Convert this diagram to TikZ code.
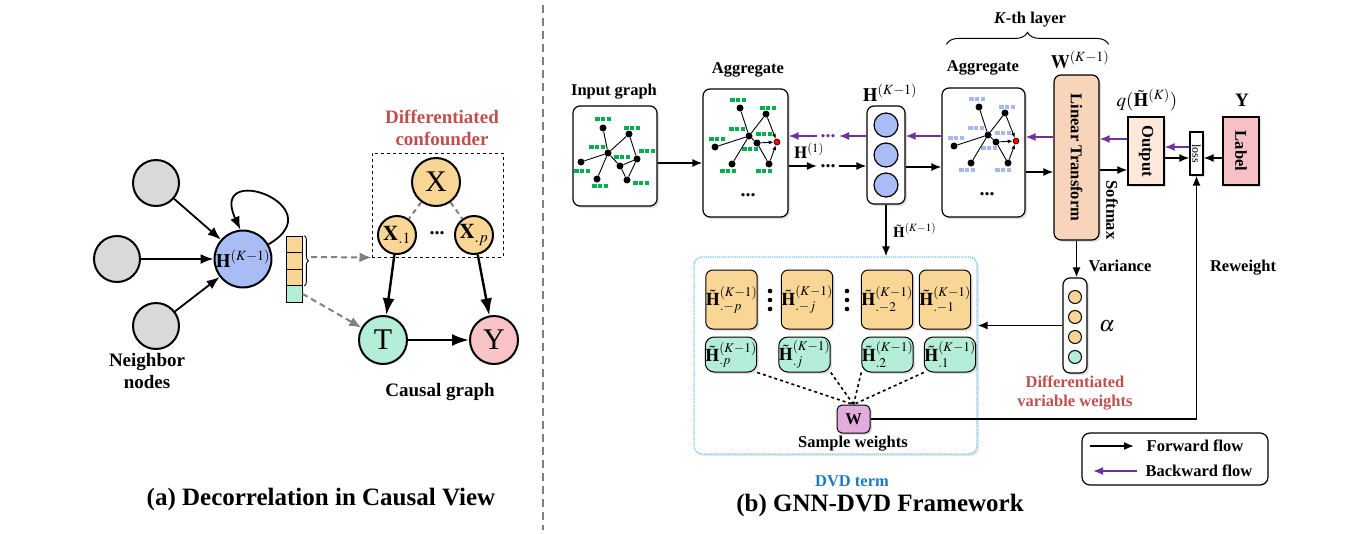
\documentclass[tikz,border=0pt]{standalone}
\usepackage{mathptmx}
\usepackage{fontspec}
\setmainfont{Liberation Serif}
\usetikzlibrary{arrows.meta, decorations.pathreplacing, shadows}

\definecolor{nbgray}{RGB}{217,217,217}
\definecolor{hblue}{RGB}{169,188,245}
\definecolor{xyellow}{RGB}{249,214,150}
\definecolor{tgreen}{RGB}{180,238,216}
\definecolor{ypink}{RGB}{248,196,200}
\definecolor{ltpeach}{RGB}{248,212,186}
\definecolor{outpeach}{RGB}{252,233,220}
\definecolor{labpink}{RGB}{246,192,196}
\definecolor{wpink}{RGB}{226,172,220}
\definecolor{backpurple}{RGB}{112,48,160}
\definecolor{confred}{RGB}{192,80,77}
\definecolor{dvdblue}{RGB}{30,120,200}
\definecolor{dvdline}{RGB}{100,200,240}
\definecolor{featgreen}{RGB}{0,176,80}
\definecolor{featblue}{RGB}{165,185,240}

% three squares = one node feature
\newcommand{\featbar}[3]{%
  \fill[#3] (#1-7.8, #2-2.1) rectangle ++(4.3, 4.3);
  \fill[#3] (#1-2.1, #2-2.1) rectangle ++(4.3, 4.3);
  \fill[#3] (#1+3.6, #2-2.1) rectangle ++(4.3, 4.3);
}

% aggregated graph, red node is the target
\newcommand{\aggnet}[1]{%
  \featbar{738}{100}{#1}
  \featbar{768}{108}{#1}
  \featbar{737}{129}{#1}
  \featbar{717}{139}{#1}
  \featbar{764}{134}{#1}
  \featbar{750}{149}{#1}
  \featbar{728}{171}{#1}
  \featbar{764}{171}{#1}
  \node[gnode] at (749, 136) (hub) {};
  \node[gnode] at (740, 108) (na) {};
  \node[gnode] at (766, 114) (nb) {};
  \node[gnode] at (715, 147) (nd) {};
  \node[gnode] at (732, 164) (ng) {};
  \node[gnode] at (757, 143) (nf) {};
  \node[gnode] at (769, 164) (nh) {};
  \node[gnode, fill=red, draw=black, line width=0.6pt, minimum size=6pt] at (777, 142) (nr) {};
  \draw[line width=0.9pt] (hub) edge (na) edge (nb) edge (nd) edge (ng) edge (nf) (nf) edge (nh);
  \draw[line width=0.9pt, smallarr] (nb) edge (nr) (nf) edge (nr) (nh) edge (nr);
  \node[dots] at (748, 195) (more) {...};
}

\begin{document}
\begin{tikzpicture}[x=1pt, y=-1pt,
    >={Latex[length=10pt, width=8pt]},
    lbl/.style={font=\fontsize{16.5}{19}\selectfont\bfseries},
    big/.style={font=\fontsize{19}{22.5}\selectfont\bfseries},
    mth/.style={font=\fontsize{19}{21}\selectfont},
    boxmth/.style={font=\fontsize{18}{20}\selectfont},
    dots/.style={font=\fontsize{20}{20}\selectfont\bfseries},
    fwd/.style={->, line width=1.6pt},
    bwd/.style={->, line width=1.6pt, backpurple},
    ball/.style={circle, draw, line width=2pt, inner sep=0pt},
    panel/.style={draw, rounded corners=7pt, line width=1.2pt, fill=white, inner sep=0pt, drop shadow={opacity=0.25, shadow xshift=2pt, shadow yshift=-2pt}},
    sqpanel/.style={draw, line width=1.2pt, inner sep=0pt, drop shadow={opacity=0.25, shadow xshift=2pt, shadow yshift=-2pt}},
    gnode/.style={circle, fill=black, inner sep=0pt, minimum size=7pt},
    smallarr/.style={-{Latex[length=5pt, width=4pt]}},
    cell/.style={draw, line width=0.8pt, inner sep=0pt, minimum width=16pt, minimum height=16.5pt},
    nbarr/.style={-{Latex[length=13pt, width=10pt]}, line width=1.8pt},
    bigarr/.style={-{Latex[length=17pt, width=12pt]}, line width=2.4pt},
    grayarr/.style={-{Latex[length=12pt, width=10pt]}, line width=2pt, gray, dash pattern=on 6pt off 4pt}]

    \useasboundingbox (0, 0) rectangle (1351, 533);

    % (a) causal view
    \node[ball, fill=nbgray, minimum size=46pt] at (156, 183) (nbA) {};
    \node[ball, fill=nbgray, minimum size=46pt] at (117, 259) (nbB) {};
    \node[ball, fill=nbgray, minimum size=46pt] at (156, 326) (nbC) {};
    \node[ball, fill=hblue, minimum size=54pt, mth] at (243, 259) (hA) {$\mathbf{H}^{(K-1)}$};
    \node[big, align=center] at (147, 371) (nbText) {Neighbor\\nodes};

    \draw[nbarr] (nbA) edge (hA);
    \draw[nbarr] (nbB) edge (hA);
    \draw[nbarr] (nbC) edge (hA);
    \draw[nbarr] (hA.30) to[out=30, in=115, looseness=6.2] (hA.95);

    \node[cell, fill=xyellow] at (294, 244.25) (vA) {};
    \node[cell, fill=xyellow] at (294, 260.75) (vB) {};
    \node[cell, fill=xyellow] at (294, 277.25) (vC) {};
    \node[cell, fill=tgreen] at (294, 293.75) (vD) {};
    \draw[decorate, decoration={brace, amplitude=4pt}, line width=0.9pt] ([xshift=2pt]vA.north east) -- ([xshift=2pt]vC.south east);
    \coordinate (brTip) at (311, 257);

    \node[draw, dashed, line width=1pt, minimum width=131pt, minimum height=104pt] at (437.5, 205) (conf) {};
    \node[big, confred, align=center] at (442, 128) (confText) {Differentiated\\confounder};
    \node[ball, fill=xyellow, minimum size=48pt, font=\fontsize{30}{30}\selectfont] at (436, 182) (xA) {X};
    \node[ball, fill=xyellow, minimum size=38pt, font=\fontsize{21}{21}\selectfont] at (397, 235) (xOne) {$\mathbf{X}_{.1}$};
    \node[ball, fill=xyellow, minimum size=38pt, font=\fontsize{21}{21}\selectfont] at (474, 235) (xP) {$\mathbf{X}_{.p}$};
    \node[dots] at (437, 233) (xDots) {...};
    \node[ball, fill=tgreen, minimum size=48pt, font=\fontsize{30}{30}\selectfont] at (383, 340) (tA) {T};
    \node[ball, fill=ypink, minimum size=48pt, font=\fontsize{30}{30}\selectfont] at (494, 340) (yA) {Y};
    \node[big] at (440, 392) (causalText) {Causal graph};

    \draw[gray, line width=2pt, dash pattern=on 5pt off 4pt] (xA) -- (xOne) (xA) -- (xP);
    \draw[bigarr] (xOne) -- (tA);
    \draw[bigarr] (xP) -- (yA);
    \draw[bigarr] (tA) -- (yA);
    \draw[grayarr] (brTip) -- (conf.south west);
    \draw[grayarr] (vD.east) -- (tA);

    \node[font=\fontsize{25}{28}\selectfont\bfseries] at (321, 499) (capA) {(a) Decorrelation in Causal View};

    \draw[gray, line width=1.3pt, dash pattern=on 8pt off 5pt] (543, 5) -- (543, 530);

    % (b) framework
    \node[lbl] at (614, 92) (inTitle) {Input graph};
    \node[panel, minimum width=84pt, minimum height=100pt] at (615, 156) (inBox) {};
    \featbar{603}{119}{featgreen}
    \featbar{632}{128}{featgreen}
    \featbar{597}{147}{featgreen}
    \featbar{582}{171}{featgreen}
    \featbar{647}{151}{featgreen}
    \featbar{622}{157}{featgreen}
    \featbar{600}{186}{featgreen}
    \featbar{641}{183}{featgreen}
    \node[gnode] at (603, 128) (inA) {};
    \node[gnode] at (629, 134) (inB) {};
    \node[gnode] at (608, 153) (inC) {};
    \node[gnode] at (581, 162) (inD) {};
    \node[gnode] at (637, 159) (inE) {};
    \node[gnode] at (620, 166) (inF) {};
    \node[gnode] at (597, 179) (inG) {};
    \node[gnode] at (627, 180) (inH) {};
    \draw[line width=0.9pt] (inC) edge (inA) edge (inB) edge (inD) edge (inG) edge (inF);
    \draw[line width=0.9pt] (inB) edge (inE) (inE) edge (inF) (inE) edge (inH) (inF) edge (inH);

    \node[lbl] at (748, 70) (aggTitleA) {Aggregate};
    \node[panel, minimum width=85pt, minimum height=128pt] at (745.5, 153) (aggA) {};
    \begin{scope}[name prefix=ga-]
      \aggnet{featgreen}
    \end{scope}

    \node[mth] at (890, 93) (hTitle) {$\mathbf{H}^{(K-1)}$};
    \node[panel, minimum width=38pt, minimum height=98pt] at (886, 155) (hBox) {};
    \node[ball, fill=hblue, line width=1.2pt, minimum size=24pt] at (886, 125) (hcA) {};
    \node[ball, fill=hblue, line width=1.2pt, minimum size=24pt] at (886, 155) (hcB) {};
    \node[ball, fill=hblue, line width=1.2pt, minimum size=24pt] at (886, 185) (hcC) {};

    \node[lbl] at (983, 68) (aggTitleB) {Aggregate};
    \node[panel, minimum width=83pt, minimum height=129pt] at (983.5, 152.5) (aggB) {};
    \begin{scope}[name prefix=gb-, shift={(239, -1)}]
      \aggnet{featblue}
    \end{scope}

    \node[mth] at (1080, 60) (wTitle) {$\mathbf{W}^{(K-1)}$};
    \node[panel, fill=ltpeach, minimum width=45pt, minimum height=165pt] at (1076.5, 157.5) (ltBox) {};
    \node[lbl, rotate=-90] at (ltBox) (ltText) {Linear Transform};
    \node[lbl, rotate=-90] at (1112, 210) (smText) {Softmax};

    \draw[line width=1pt, decorate, decoration={brace, amplitude=12pt}] ([xshift=5pt, yshift=43pt]aggB.north west) -- ([xshift=9pt, yshift=30pt]ltBox.north east);
    \node[lbl] at (1030, 20) (kText) {\textit{K}-th layer};

    \node[mth] at (1147, 100) (qTitle) {$q(\tilde{\mathbf{H}}^{(K)})$};
    \node[sqpanel, fill=outpeach, minimum width=36pt, minimum height=68pt] at (1146, 151) (outBox) {};
    \node[lbl, rotate=-90] at (outBox) (outText) {Output};
    \node[sqpanel, fill=white, minimum width=13pt, minimum height=43pt] at (1196.5, 153.5) (lossBox) {};
    \node[rotate=-90, font=\fontsize{12}{12}\selectfont] at (lossBox) (lossText) {loss};
    \node[mth, font=\fontsize{19}{21}\selectfont\bfseries] at (1242, 100) (yTitle) {Y};
    \node[sqpanel, fill=labpink, minimum width=36pt, minimum height=68pt] at (1241, 151) (labBox) {};
    \node[lbl, rotate=-90] at (labBox) (labText) {Label};

    % forward and backward flows
    \node[dots] at (828, 166) (fDots) {...};
    \node[dots, backpurple] at (828, 136) (bDots) {...};
    \node[mth, font=\fontsize{17}{19}\selectfont] at (809, 151) (hOne) {$\mathbf{H}^{(1)}$};

    \coordinate (fwdA) at ([yshift=-7pt]inBox.east);
    \coordinate (fwdB) at ([yshift=-13pt]aggA.east);
    \coordinate (fwdC) at ([yshift=-12pt]hBox.east);
    \coordinate (fwdD) at ([yshift=-19.5pt]aggB.east);
    \coordinate (fwdE) at ([yshift=-12.5pt]ltBox.east);
    \coordinate (fwdF) at ([yshift=-7pt]outBox.east);
    \coordinate (fwdG) at ([yshift=-7pt]labBox.west);
    \coordinate (bwdB) at ([yshift=19pt]hBox.west);
    \coordinate (bwdC) at ([yshift=16.5pt]aggB.west);
    \coordinate (bwdD) at ([yshift=20.5pt]ltBox.west);
    \coordinate (bwdE) at ([yshift=12pt]outBox.west);
    \coordinate (bwdF) at ([yshift=6.5pt]lossBox.west);

    \draw[fwd] (fwdA) -- (fwdA -| aggA.west);
    \draw[fwd] (fwdB) -- (fwdB -| fDots.west);
    \draw[fwd] (fDots.east) -- (fDots.east -| hBox.west);
    \draw[fwd] (fwdC) -- (fwdC -| aggB.west);
    \draw[fwd] (fwdD) -- (fwdD -| ltBox.west);
    \draw[fwd] (fwdE) -- (fwdE -| outBox.west);
    \draw[fwd] (fwdF) -- (fwdF -| lossBox.west);
    \draw[fwd] (fwdG) -- (fwdG -| lossBox.east);
    \draw[bwd] (bwdB) -- (bwdB -| bDots.east);
    \draw[bwd] (bDots.west) -- (bDots.west -| aggA.east);
    \draw[bwd] (bwdC) -- (bwdC -| hBox.east);
    \draw[bwd] (bwdD) -- (bwdD -| aggB.east);
    \draw[bwd] (bwdE) -- (bwdE -| ltBox.east);
    \draw[bwd] (bwdF) -- (bwdF -| outBox.east);

    % DVD term
    \node[draw=dvdline, densely dotted, line width=1.2pt, rounded corners=8pt, fill=white, minimum width=283pt, minimum height=197pt, drop shadow={opacity=0.2, shadow xshift=2pt, shadow yshift=-2pt}] at (835.5, 355.5) (dvdBox) {};
    \draw[fwd] (hBox.south) -- (hBox.south |- dvdBox.north) node[midway, right, xshift=3pt, font=\fontsize{15}{17}\selectfont] (hTilde) {$\tilde{\mathbf{H}}^{(K-1)}$};

    \node[panel, fill=xyellow, line width=1pt, minimum width=49pt, minimum height=59pt, boxmth] at (731.5, 299.5) (ybP) {$\tilde{\mathbf{H}}^{(K-1)}_{.-p}$};
    \node[panel, fill=xyellow, line width=1pt, minimum width=48pt, minimum height=59pt, boxmth] at (807, 299.5) (ybJ) {$\tilde{\mathbf{H}}^{(K-1)}_{.-j}$};
    \node[panel, fill=xyellow, line width=1pt, minimum width=48pt, minimum height=59pt, boxmth] at (887, 299.5) (ybB) {$\tilde{\mathbf{H}}^{(K-1)}_{.-2}$};
    \node[panel, fill=xyellow, line width=1pt, minimum width=48pt, minimum height=59pt, boxmth] at (945, 299.5) (ybA) {$\tilde{\mathbf{H}}^{(K-1)}_{.-1}$};
    % vertical dots between the boxes
    \fill (770, 291) circle (2.3) (770, 300) circle (2.3) (770, 309) circle (2.3);
    \fill (847, 291) circle (2.3) (847, 300) circle (2.3) (847, 309) circle (2.3);

    \node[panel, fill=tgreen, line width=1pt, rounded corners=9pt, minimum width=48pt, minimum height=35pt, boxmth] at (731, 354.5) (gbP) {$\tilde{\mathbf{H}}^{(K-1)}_{.p}$};
    \node[panel, fill=tgreen, line width=1pt, rounded corners=9pt, minimum width=47pt, minimum height=35pt, boxmth] at (804.5, 354.5) (gbJ) {$\tilde{\mathbf{H}}^{(K-1)}_{.j}$};
    \node[panel, fill=tgreen, line width=1pt, rounded corners=9pt, minimum width=47pt, minimum height=35pt, boxmth] at (887.5, 354.5) (gbB) {$\tilde{\mathbf{H}}^{(K-1)}_{.2}$};
    \node[panel, fill=tgreen, line width=1pt, rounded corners=9pt, minimum width=46pt, minimum height=35pt, boxmth] at (950, 354.5) (gbA) {$\tilde{\mathbf{H}}^{(K-1)}_{.1}$};

    \node[panel, fill=wpink, line width=1pt, rounded corners=5pt, minimum width=33pt, minimum height=28pt, lbl] at (853.5, 419) (wBox) {W};
    \node[lbl] at (853, 444) (swText) {Sample weights};
    \draw[line width=1.6pt, dash pattern=on 3pt off 3pt] (gbP.south east) -- (wBox.north) (gbJ.south east) -- (wBox.north) (gbB.south west) -- (wBox.north) (gbA.south west) -- (wBox.north);
    \node[lbl, dvdblue] at (852, 481) (dvdText) {DVD term};

    % variable weights
    \node[panel, rounded corners=7pt, minimum width=24pt, minimum height=95pt] at (1075, 325.5) (alphaBox) {};
    \node[ball, fill=xyellow, line width=1pt, minimum size=13pt] at (1075, 297) (alA) {};
    \node[ball, fill=xyellow, line width=1pt, minimum size=13pt] at (1075, 317) (alB) {};
    \node[ball, fill=xyellow, line width=1pt, minimum size=13pt] at (1075, 337) (alC) {};
    \node[ball, fill=tgreen, line width=1pt, minimum size=13pt] at (1075, 357) (alD) {};
    \node[font=\fontsize{22}{22}\selectfont] at (1107, 326) (alText) {$\alpha$};
    \node[lbl] at (1120, 266) (varText) {Variance};
    \node[lbl, confred, align=center] at (1075, 393) (dvwText) {Differentiated\\variable weights};
    \node[lbl] at (1243, 268) (rwText) {Reweight};

    \draw[fwd] (ltBox.south) -- (ltBox.south |- alphaBox.north);
    \draw[fwd] (alphaBox.west) -- (alphaBox.west -| dvdBox.east);
    \draw[fwd] (wBox.east) -| (lossBox.south);

    % legend
    \node[draw, rounded corners=8pt, line width=1.2pt, minimum width=186pt, minimum height=52pt] at (1175, 459) (legBox) {};
    \coordinate (legFa) at (1090, 446);
    \coordinate (legFb) at (1134, 446);
    \coordinate (legBa) at (1137, 471);
    \coordinate (legBb) at (1093, 471);
    \draw[fwd] (legFa) -- (legFb);
    \draw[bwd] (legBa) -- (legBb);
    \node[lbl] at (1195, 446) (legFt) {Forward flow};
    \node[lbl] at (1199, 471) (legBt) {Backward flow};

    \node[font=\fontsize{25}{28}\selectfont\bfseries] at (880, 505) (capB) {(b) GNN-DVD Framework};

  \end{tikzpicture}
\end{document}
